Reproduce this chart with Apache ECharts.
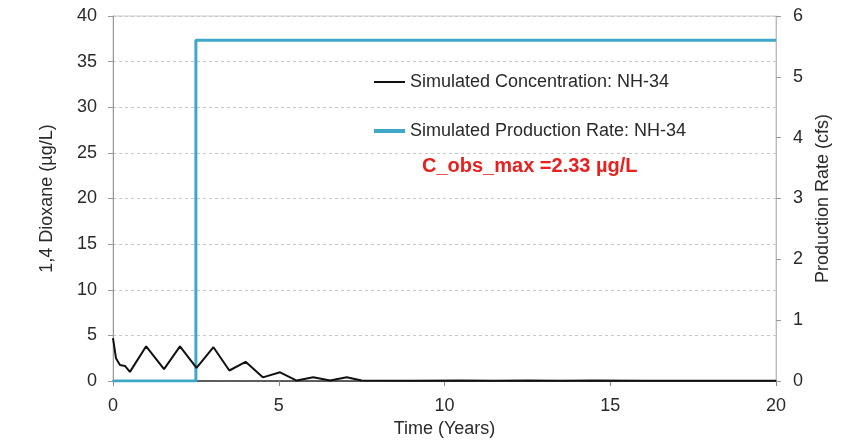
<!DOCTYPE html>
<html><head><meta charset="utf-8">
<script src="https://cdn.jsdelivr.net/npm/echarts@6/dist/echarts.min.js"></script>
<style>html,body{margin:0;padding:0;background:#fff}#c{width:849px;height:445px}</style>
</head><body><div id="c"></div>
<script>
const concTime = [0, 0.09, 0.21, 0.36, 0.51, 1.0, 1.54, 2.02, 2.52, 3.03, 3.51, 4.0, 4.52, 5.04, 5.54, 6.04, 6.55, 7.05, 7.5, 9, 10.5, 11.5, 12.5, 13.5, 14.5, 16, 20];
const concVals = [4.7, 2.5, 1.75, 1.65, 1.0, 3.8, 1.3, 3.8, 1.45, 3.7, 1.15, 2.1, 0.4, 0.95, 0.05, 0.4, 0.05, 0.4, 0.05, 0.03, 0.06, 0.03, 0.06, 0.03, 0.05, 0.02, 0.02];
const prodTime = [0, 2.5, 2.5, 20];
const prodVals = [0, 0, 5.6, 5.6];
const leftTicks = [0, 5, 10, 15, 20, 25, 30, 35, 40];
const rightTicks = [0, 1, 2, 3, 4, 5, 6];
const xTicks = [0, 5, 10, 15, 20];
const concName = 'Simulated Concentration: NH-34';
const prodName = 'Simulated Production Rate: NH-34';
const note = 'C_obs_max =2.33 µg/L';

const font = 'Liberation Sans, Arial, sans-serif';
const blue = '#3fa8c8';
const txt = '#2a2a2a';
const legendText = {fontSize: 18, color: txt, fontFamily: font};
const chart = echarts.init(document.getElementById('c'), null, {renderer: 'canvas'});
chart.setOption({
  animation: false,
  textStyle: {fontFamily: font},
  grid: {left: 113, right: 73, top: 16, bottom: 64, show: true, borderColor: '#c8c8c8', borderWidth: 1},
  title: {text: note, left: 417, top: 151, textStyle: {color: '#e8211f', fontSize: 20, fontWeight: 'bold', fontFamily: font}},
  legend: [{
    left: 374, top: 73, padding: 0, itemWidth: 31, itemHeight: 2, icon: 'rect',
    itemStyle: {color: '#111'}, textStyle: legendText, data: [concName]
  }, {
    left: 374, top: 122, padding: 0, itemWidth: 31, itemHeight: 4, icon: 'rect',
    itemStyle: {color: blue}, textStyle: legendText, data: [prodName]
  }],
  xAxis: {
    type: 'value', min: xTicks[0], max: xTicks[xTicks.length - 1], interval: 5,
    name: 'Time (Years)', nameLocation: 'middle', nameGap: 35,
    nameTextStyle: {fontSize: 18, color: txt},
    axisLine: {lineStyle: {color: '#333', width: 1.5}},
    axisTick: {show: true, length: 5, lineStyle: {color: '#888'}},
    axisLabel: {fontSize: 18, color: txt, margin: 16},
    splitLine: {show: false}
  },
  yAxis: [{
    type: 'value', min: leftTicks[0], max: leftTicks[leftTicks.length - 1], interval: 5,
    name: '1,4 Dioxane (µg/L)', nameLocation: 'middle', nameGap: 57,
    nameTextStyle: {fontSize: 18, color: txt},
    axisLine: {show: true, lineStyle: {color: '#999'}},
    axisTick: {show: true, length: 5, lineStyle: {color: '#999'}},
    axisLabel: {fontSize: 18, color: txt, margin: 16},
    splitLine: {show: true, lineStyle: {type: [3, 3], color: '#c8c8c8'}}
  }, {
    type: 'value', min: rightTicks[0], max: rightTicks[rightTicks.length - 1], interval: 1,
    name: 'Production Rate (cfs)', nameLocation: 'middle', nameGap: 34,
    nameTextStyle: {fontSize: 18, color: txt},
    axisLine: {show: true, lineStyle: {color: '#bbb'}},
    axisTick: {show: true, length: 5, lineStyle: {color: '#999'}},
    axisLabel: {fontSize: 18, color: txt, margin: 17},
    splitLine: {show: false}
  }],
  series: [{
    name: concName, type: 'line', yAxisIndex: 0, symbol: 'none',
    lineStyle: {color: '#111', width: 2}, itemStyle: {color: '#111'},
    data: concTime.map((t, i) => [t, concVals[i]]), z: 3
  }, {
    name: prodName, type: 'line', yAxisIndex: 1, symbol: 'none',
    lineStyle: {color: blue, width: 3}, itemStyle: {color: blue},
    data: prodTime.map((t, i) => [t, prodVals[i]]), z: 2
  }]
});
</script></body></html>
